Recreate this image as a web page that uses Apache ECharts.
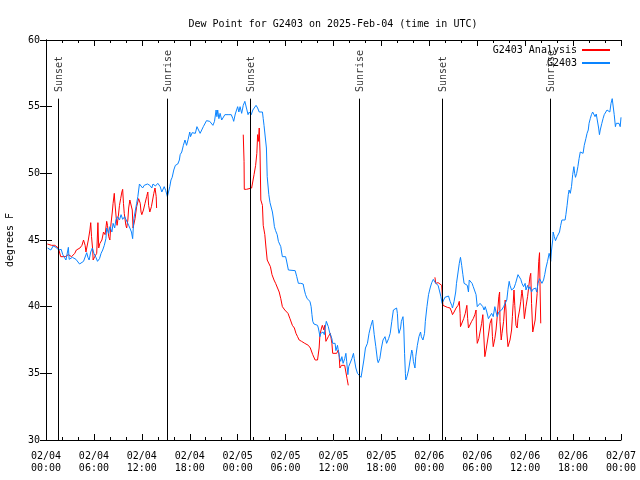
<!DOCTYPE html>
<html>
<head>
<meta charset="utf-8">
<script src="https://cdn.jsdelivr.net/npm/echarts@6/dist/echarts.min.js"></script>
<style>html,body{margin:0;padding:0;background:#fff;}#c{width:640px;height:480px;}</style>
</head>
<body>
<div id="c"></div>
<script>
// x values are hours since 02/04 00:00 UTC
const tickLabels = ['02/04\n00:00','02/04\n06:00','02/04\n12:00','02/04\n18:00','02/05\n00:00','02/05\n06:00','02/05\n12:00','02/05\n18:00','02/06\n00:00','02/06\n06:00','02/06\n12:00','02/06\n18:00','02/07\n00:00'];
const eventHours = [1.54, 15.19, 25.63, 39.23, 49.62, 63.15];
const eventLabels = ['Sunset','Sunrise','Sunset','Sunrise','Sunset','Sunrise'];

const station = [
[0.2,44.4],[0.6,44.25],[0.9,44.55],[1.25,44.45],[1.6,44.25],[1.9,44.3],[2.1,43.9],[2.3,43.7],[2.5,43.5],[2.7,43.6],[2.8,44.45],[2.9,43.55],[3.1,43.7],[3.3,43.7],[3.5,43.6],[3.75,43.55],[4.0,43.4],[4.2,43.2],[4.45,43.2],[4.7,43.4],[4.9,43.55],[5.1,44.05],[5.25,43.7],[5.4,43.5],[5.6,44.1],[5.8,44.4],[6.0,44.0],[6.25,43.7],[6.45,43.4],[6.7,43.6],[6.9,44.0],[7.1,44.25],[7.3,44.6],[7.5,45.1],[7.6,45.9],[7.85,45.5],[8.0,46.0],[8.25,45.6],[8.4,46.25],[8.6,45.9],[8.75,46.5],[8.95,46.75],[9.2,46.5],[9.4,46.9],[9.6,46.55],[9.85,46.75],[10.1,46.6],[10.35,46.1],[10.5,45.9],[10.7,45.6],[10.85,45.1],[11.0,46.6],[11.2,47.25],[11.35,47.75],[11.5,48.25],[11.7,49.2],[11.9,49.1],[12.1,48.9],[12.3,49.1],[12.5,49.25],[12.7,49.2],[13.0,49.1],[13.25,48.9],[13.4,49.2],[13.7,49.05],[14.0,49.25],[14.3,49.0],[14.5,48.6],[14.8,49.0],
[15.0,48.7],[15.1,48.6],[15.2,48.25],[15.4,48.3],[15.5,49.0],[15.65,49.5],[15.8,49.7],[16.0,50.25],[16.2,50.6],[16.5,50.7],[16.7,51.0],[16.8,51.4],[17.0,51.6],[17.2,52.1],[17.4,52.5],[17.6,52.1],[17.7,52.0],[17.8,52.55],[18.0,53.1],[18.1,52.75],[18.3,53.05],[18.5,53.1],[18.7,53.0],[18.9,53.5],[19.1,53.25],[19.3,53.0],[19.5,53.25],[19.7,53.5],[19.9,53.6],[20.1,53.95],[20.3,53.9],[20.5,53.9],[20.7,53.75],[20.9,53.6],[21.1,53.9],[21.3,54.75],[21.4,54.25],[21.5,54.75],[21.65,54.1],[21.8,54.5],[22.0,54.0],[22.2,54.1],[22.4,54.4],[22.6,54.45],[22.8,54.4],[23.0,54.45],[23.2,54.4],[23.4,54.1],[23.5,53.9],[23.7,54.45],[23.85,54.55],[24.0,55.0],[24.15,54.6],
[24.3,55.0],[24.5,54.5],[24.7,55.1],[24.9,55.4],[25.1,55.3],[25.3,54.4],[25.45,54.6],[25.7,54.4],[25.9,54.75],[26.1,54.9],[26.3,55.1],[26.5,54.9],[26.7,54.6],[26.9,54.6],[27.1,54.6],[27.2,54.1],[27.3,53.6],[27.5,53.6],[27.6,51.9],[27.7,49.75],[27.9,48.4],[28.05,47.8],[28.2,47.75],[28.35,47.1],[28.5,46.5],[28.6,46.0],[28.75,45.7],[28.95,45.4],[29.1,44.9],[29.2,44.75],[29.4,44.5],[29.5,44.1],[29.6,43.75],[29.8,43.7],[30.0,43.75],[30.1,43.5],[30.35,42.75],[30.6,42.75],[31.2,42.7],[31.4,42.25],[31.6,41.75],[31.9,41.75],[32.2,41.7],[32.35,41.25],[32.5,40.9],[32.7,40.6],[33.05,40.4],[33.2,40.0],[33.3,39.4],[33.4,38.9],[33.55,38.7],[33.8,38.6],[34.0,38.6],[34.1,38.4],[34.2,38.1],[34.3,37.75],[34.4,38.0],[34.55,37.9],[34.7,38.1],[34.85,37.9],[34.95,38.4],[35.1,38.9],[35.2,38.9],[35.35,38.5],[35.5,38.1],[35.65,38.0],[35.8,37.6],[35.9,37.25],[36.05,37.2],[36.2,37.25],[36.3,36.7],[36.5,37.1],[36.6,36.7],[36.75,36.2],[36.9,35.9],[37.05,36.25],[37.2,35.75],[37.4,36.1],[37.55,36.5],[37.65,35.9],[37.8,34.9],[37.9,35.5],[38.05,35.5],[38.3,36.1],[38.5,36.5],[38.6,36.1],[38.8,35.4],
[39.0,35.0],[39.2,34.9],[39.45,34.7],[39.6,35.25],[39.8,36.0],[40.0,36.9],[40.25,37.25],[40.45,38.0],[40.65,38.5],[40.9,39.0],[41.0,39.0],[41.1,37.9],[41.3,37.0],[41.5,36.0],[41.6,35.8],[41.8,36.1],[42.0,36.9],[42.2,37.5],[42.45,37.75],[42.65,37.25],[42.9,37.6],[43.1,38.0],[43.3,38.9],[43.5,39.75],[43.7,39.8],[43.9,39.9],[44.0,39.5],[44.1,38.4],[44.2,38.0],[44.4,38.4],[44.5,38.9],[44.7,39.25],[44.8,38.4],[44.9,36.5],[45.0,35.0],[45.05,34.5],[45.2,34.75],[45.4,35.25],[45.6,36.0],[45.8,36.75],[45.9,36.5],[46.0,35.9],[46.2,35.4],[46.3,36.25],[46.5,37.1],[46.7,37.75],[46.9,38.1],[47.0,37.75],[47.2,37.5],[47.4,38.0],[47.5,38.9],[47.7,40.0],[47.9,40.9],[48.1,41.4],[48.3,41.8],[48.5,42.05],[48.6,42.0],[48.8,41.75],[49.0,41.9],[49.1,41.6],[49.3,41.45],
[49.45,40.75],[49.6,40.25],[49.75,40.3],[49.95,40.7],[50.2,40.6],[50.4,40.8],[50.6,40.4],[50.8,40.1],[50.9,39.9],[51.1,40.4],[51.3,41.1],[51.4,41.75],[51.6,42.6],[51.75,43.25],[51.9,43.7],[52.05,43.1],[52.2,42.4],[52.35,41.75],[52.55,41.7],[52.75,41.6],[52.9,41.1],[53.0,42.0],[53.2,42.05],[53.35,41.75],[53.5,41.5],[53.7,41.4],[53.85,40.9],[54.0,40.0],[54.15,40.1],[54.35,40.25],[54.5,40.4],[54.7,40.0],[54.85,39.75],[55.0,40.0],[55.2,39.6],[55.4,39.1],[55.6,39.0],[55.8,39.5],[56.0,39.25],[56.2,40.0],[56.35,39.6],[56.5,39.25],[56.7,39.6],[56.85,39.5],[57.05,39.75],[57.3,40.0],[57.5,39.9],[57.7,40.5],[57.85,41.3],[58.0,41.9],[58.1,41.6],[58.3,41.25],[58.45,41.1],[58.6,41.4],[58.8,41.75],[58.95,41.9],[59.1,42.4],[59.3,42.25],[59.45,42.05],[59.6,41.75],[59.8,41.5],[60.0,41.75],[60.1,41.25],[60.3,41.6],[60.45,41.3],[60.6,41.5],[60.8,41.1],[60.95,41.3],[61.1,41.25],[61.3,41.4],[61.45,41.1],[61.6,41.75],[61.8,42.1],[61.95,42.0],[62.1,41.75],[62.3,42.0],[62.45,42.4],
[62.6,42.9],[62.8,43.4],[63.0,44.0],[63.1,43.75],[63.2,43.4],[63.3,44.25],[63.45,45.0],[63.5,45.6],[63.65,45.25],[63.8,44.95],[64.0,45.25],[64.15,45.25],[64.3,45.6],[64.45,46.1],[64.6,46.5],[64.8,46.5],[65.0,46.5],[65.1,46.9],[65.25,47.6],[65.4,48.4],[65.5,48.75],[65.65,48.5],[65.8,49.0],[65.95,49.9],[66.1,50.5],[66.2,50.0],[66.3,49.7],[66.45,50.0],[66.6,50.5],[66.75,51.1],[66.9,51.6],[67.1,51.75],[67.25,51.5],[67.4,52.1],[67.6,52.6],[67.75,53.0],[67.9,53.25],[68.0,53.75],[68.15,54.1],[68.3,54.4],[68.45,54.6],[68.6,54.7],[68.75,54.25],[68.9,54.45],[69.0,54.4],[69.2,53.4],[69.3,52.9],[69.4,53.25],[69.6,53.75],[69.75,54.1],[69.9,54.4],[70.1,54.5],[70.25,54.75],[70.4,54.9],[70.6,54.6],[70.75,55.25],[70.9,55.6],[71.0,55.7],[71.15,54.4],[71.3,53.5],[71.4,53.75],[71.6,53.6],[71.75,53.75],[71.9,53.5],[72.0,54.2]
];

const analysisDay1 = [
[0.17,44.7],[0.7,44.6],[1.1,44.6],[1.55,44.4],[1.84,43.75],[1.96,43.6],[2.4,43.75],[2.8,43.9],[3.2,43.75],[3.6,44.0],[3.8,44.25],[4.05,44.1],[4.25,44.4],[4.5,44.6],[4.7,45.0],[4.8,45.05],[4.9,44.6],[5.0,44.1],[5.1,44.25],[5.3,45.0],[5.5,45.75],[5.6,46.3],[5.7,45.25],[5.85,44.25],[5.9,43.5],[6.1,43.75],[6.35,44.0],[6.5,46.3],[6.6,44.4],[6.75,44.75],[7.0,45.0],[7.2,45.6],[7.4,45.4],[7.6,46.4],[7.7,46.1],[7.85,45.25],[8.0,45.0],[8.1,46.0],[8.3,47.1],[8.4,47.75],[8.55,48.5],[8.6,48.0],[8.8,46.6],[8.9,46.1],[9.05,46.75],[9.2,47.6],[9.35,48.1],[9.5,48.6],[9.6,48.8],[9.7,47.75],[9.8,47.0],[10.0,46.1],[10.1,45.9],[10.25,46.5],[10.35,47.4],[10.5,48.0],[10.65,47.9],[10.8,47.25],[10.9,45.9],[11.15,46.6],[11.35,47.5],[11.6,48.1],[11.7,48.25],[11.8,47.75],[11.9,47.1],[12.0,46.9],[12.2,47.25],[12.4,47.75],[12.6,48.25],[12.75,48.6],[12.85,47.6],[13.0,47.1],[13.2,47.5],[13.35,48.0],[13.5,48.5],[13.65,48.9],[13.8,48.25],[13.85,47.4]
];
const analysisDay2 = [
[24.7,52.9],[24.8,50.9],[24.83,48.8],[25.1,48.8],[25.75,48.9],[25.9,48.75],[26.05,49.9],[26.25,50.6],[26.4,51.5],[26.5,52.9],[26.6,52.4],[26.7,53.4],[26.8,51.6],[26.9,48.0],[27.1,47.6],[27.2,46.1],[27.4,45.4],[27.55,44.4],[27.7,43.5],[27.95,43.4],[28.1,43.0],[28.3,42.4],[28.55,42.0],[28.75,41.75],[28.95,41.6],[29.2,41.1],[29.4,40.6],[29.6,40.0],[29.9,39.75],[30.3,39.5],[30.55,39.1],[30.85,38.6],[31.1,38.4],[31.3,38.0],[31.5,37.75],[31.7,37.5],[32.0,37.4],[32.4,37.25],[32.85,37.1],[33.1,36.9],[33.4,36.4],[33.7,36.0],[34.0,36.0],[34.2,36.9],[34.3,37.9],[34.5,38.4],[34.6,38.6],[34.8,38.25],[34.9,38.6],[35.05,37.4],[35.35,37.75],[35.6,38.0],[35.7,38.1],[35.8,37.25],[35.9,36.5],[36.1,36.4],[36.4,36.5],[36.6,36.75],[36.7,36.4],[36.8,35.4],[37.0,35.6],[37.4,35.6],[37.65,35.6],[37.7,34.6],[37.85,34.1]
];
const analysisDay3 = [
[48.7,42.2],[48.8,41.75],[49.1,41.8],[49.35,41.75],[49.55,41.6],[49.7,40.1],[49.9,40.0],[50.25,39.95],[50.6,39.9],[50.8,39.6],[50.9,39.4],[51.1,39.6],[51.35,39.9],[51.6,40.1],[51.75,40.4],[51.85,39.5],[51.9,38.5],[52.1,38.6],[52.3,39.1],[52.5,39.5],[52.7,40.1],[52.8,39.1],[52.9,38.4],[53.1,38.5],[53.3,38.9],[53.5,39.1],[53.7,39.4],[53.85,39.75],[53.9,38.25],[54.0,37.25],[54.2,37.6],[54.35,38.1],[54.55,38.75],[54.7,39.4],[54.8,38.1],[54.95,36.25],[55.1,36.75],[55.3,37.5],[55.45,38.1],[55.6,38.75],[55.8,39.1],[55.9,37.75],[56.0,37.0],[56.2,37.6],[56.35,38.25],[56.5,39.25],[56.7,40.75],[56.8,41.1],[56.85,38.9],[57.0,37.5],[57.1,38.0],[57.3,38.9],[57.4,39.75],[57.5,40.5],[57.6,39.75],[57.7,38.1],[57.85,37.0],[58.0,36.9],[58.1,37.5],[58.3,38.25],[58.4,39.25],[58.5,40.25],[58.6,41.25],[58.7,40.1],[58.85,38.6],[59.0,38.4],[59.1,39.1],[59.3,39.75],[59.45,40.4],[59.55,41.0],[59.6,41.25],[59.75,40.5],[59.9,39.1],[60.0,39.25],[60.1,40.0],[60.3,40.75],[60.45,41.5],[60.6,42.25],[60.7,42.5],[60.8,40.25],[60.95,38.1],[61.1,38.25],[61.25,39.0],[61.35,39.9],[61.5,41.0],[61.6,42.0],[61.7,43.4],[61.8,44.05],[61.85,41.9],[61.95,38.75]
];

const FONT = 'DejaVu Sans Mono';
const RED = '#ff0000';
const BLUE = '#0a84ff';
const chart = echarts.init(document.getElementById('c'), null, {renderer: 'canvas'});

const tickStyle = {show: true, inside: true, length: 6, lineStyle: {color: '#000', width: 1}};
const minorStyle = {show: true, splitNumber: 3, length: 3, lineStyle: {color: '#000', width: 1}};
const lineStyle = {show: true, lineStyle: {color: '#000', width: 1}};

const analysisSeries = [analysisDay1, analysisDay2, analysisDay3].map(seg => ({
  name: 'G2403 Analysis', type: 'line', data: seg, showSymbol: false, symbol: 'none',
  lineStyle: {color: RED, width: 1}, itemStyle: {color: RED}, z: 3, silent: true
}));

chart.setOption({
  animation: false,
  backgroundColor: '#fff',
  textStyle: {fontFamily: FONT},
  title: {
    text: 'Dew Point for G2403 on 2025-Feb-04 (time in UTC)',
    left: 333, top: 19, textAlign: 'center', padding: 0,
    textStyle: {fontFamily: FONT, fontSize: 10, fontWeight: 'normal', color: '#000'}
  },
  legend: {
    data: ['G2403 Analysis', 'G2403'],
    orient: 'vertical', align: 'right', right: 30, top: 45, padding: 0,
    itemWidth: 28, itemHeight: 2, itemGap: 3, icon: 'rect',
    textStyle: {fontFamily: FONT, fontSize: 10, color: '#000'},
    selectedMode: false
  },
  grid: {left: 46, right: 19, top: 40, bottom: 40, containLabel: false, outerBoundsMode: 'none'},
  xAxis: [
    {type: 'value', min: 0, max: 72, interval: 6, position: 'bottom',
     axisLine: lineStyle, axisTick: tickStyle, minorTick: minorStyle, splitLine: {show: false},
     axisLabel: {margin: 10, fontFamily: FONT, fontSize: 10, color: '#000', lineHeight: 12,
       formatter: v => tickLabels[Math.round(v / 6)]}},
    {type: 'value', min: 0, max: 72, interval: 6, position: 'top',
     axisLine: lineStyle, axisTick: tickStyle, minorTick: minorStyle, splitLine: {show: false},
     axisLabel: {show: false}}
  ],
  yAxis: [
    {type: 'value', min: 30, max: 60, interval: 5, position: 'left',
     name: 'degrees F', nameLocation: 'middle', nameGap: 31, nameRotate: 90,
     nameTextStyle: {fontFamily: FONT, fontSize: 10, color: '#000'},
     axisLine: lineStyle, axisTick: tickStyle, splitLine: {show: false},
     axisLabel: {margin: 6, fontFamily: FONT, fontSize: 10, color: '#000'}},
    {type: 'value', min: 30, max: 60, interval: 5, position: 'right',
     axisLine: lineStyle, axisTick: tickStyle, splitLine: {show: false},
     axisLabel: {show: false}}
  ],
  series: [
    {
      name: 'events', type: 'scatter', symbolSize: 0, silent: true, z: 5,
      data: eventHours.map((h, i) => ({value: [h, 56.1], name: eventLabels[i]})),
      label: {show: true, position: [1, 0], rotate: 90, align: 'left', verticalAlign: 'middle',
        formatter: p => p.name, fontFamily: FONT, fontSize: 10, color: '#000'},
      markLine: {
        silent: true, symbol: ['none', 'none'], label: {show: false},
        lineStyle: {color: '#000', width: 1, type: 'solid'},
        data: eventHours.map(h => [{coord: [h, 30]}, {coord: [h, 55.6]}])
      }
    },
    ...analysisSeries,
    {
      name: 'G2403', type: 'line', data: station, showSymbol: false, symbol: 'none',
      lineStyle: {color: BLUE, width: 1}, itemStyle: {color: BLUE}, z: 4, silent: true
    }
  ]
});
</script>
</body>
</html>
